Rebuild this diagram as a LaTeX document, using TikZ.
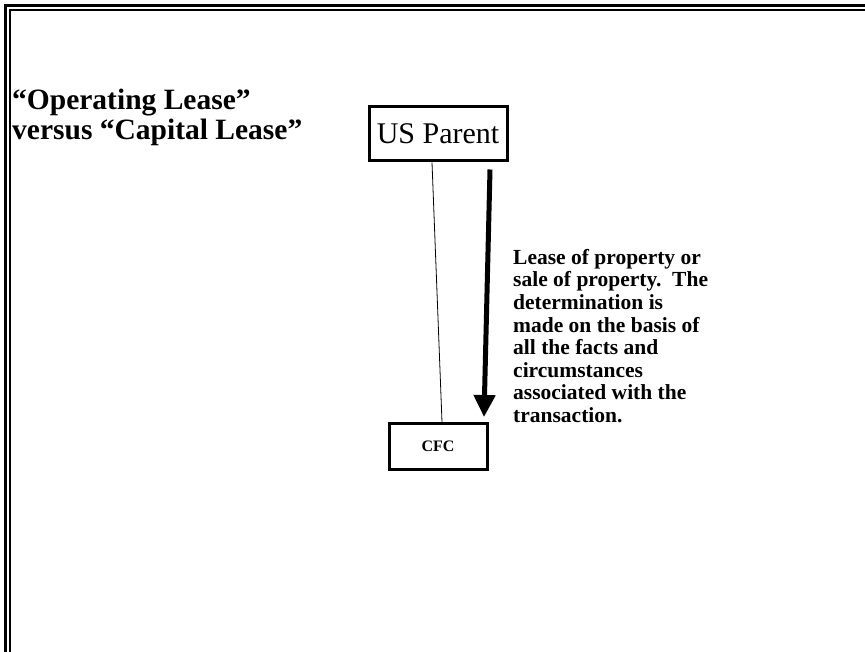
\documentclass[tikz,border=0pt]{standalone}
\usepackage{fontspec}
\setmainfont{Liberation Serif}
\usetikzlibrary{arrows.meta}
\begin{document}
\begin{tikzpicture}[x=1pt,y=1pt,
  boxnode/.style={draw, line width=3pt, inner sep=0pt, align=center},
  thinline/.style={line width=0.8pt},
  bigarrow/.style={line width=5pt, -{Triangle[width=21pt,length=22pt]}},
  framestyle/.style={line width=2.5pt}
]
\clip (0,0) rectangle (865,-652);
\fill[white] (0,0) rectangle (865,-652);
% double frame
\draw[framestyle] (5.5,-700) -- (5.5,-5.5) -- (900,-5.5);
\draw[line width=1.6pt] (10,-700) -- (10,-10) -- (900,-10);
% title
\node[anchor=north west, align=left, font=\bfseries\fontsize{29.5}{29.5}\selectfont, inner sep=0pt] (title) at (12,-89) {“Operating Lease”\\versus “Capital Lease”};
% boxes
\node[boxnode, minimum width=138pt, minimum height=54pt, font=\fontsize{30}{34}\selectfont] (parent) at (438,-134) {US Parent};
\node[boxnode, minimum width=98pt, minimum height=46pt, font=\bfseries\fontsize{16}{18}\selectfont] (cfc) at (438,-446.5) {CFC};
% connectors
\draw[thinline] ([xshift=-6pt]parent.south) -- ([xshift=4pt]cfc.north);
\draw[bigarrow] ([xshift=52pt,yshift=-7pt]parent.south) -- ([xshift=46pt,yshift=5pt]cfc.north);
% label
\node[anchor=north west, align=left, inner sep=0pt, font=\bfseries\fontsize{21.5}{22.6}\selectfont] (label) at (513,-249) {Lease of property or\\sale of property.\ \ The\\determination is\\made on the basis of\\all the facts and\\circumstances\\associated with the\\transaction.};
\end{tikzpicture}
\end{document}
